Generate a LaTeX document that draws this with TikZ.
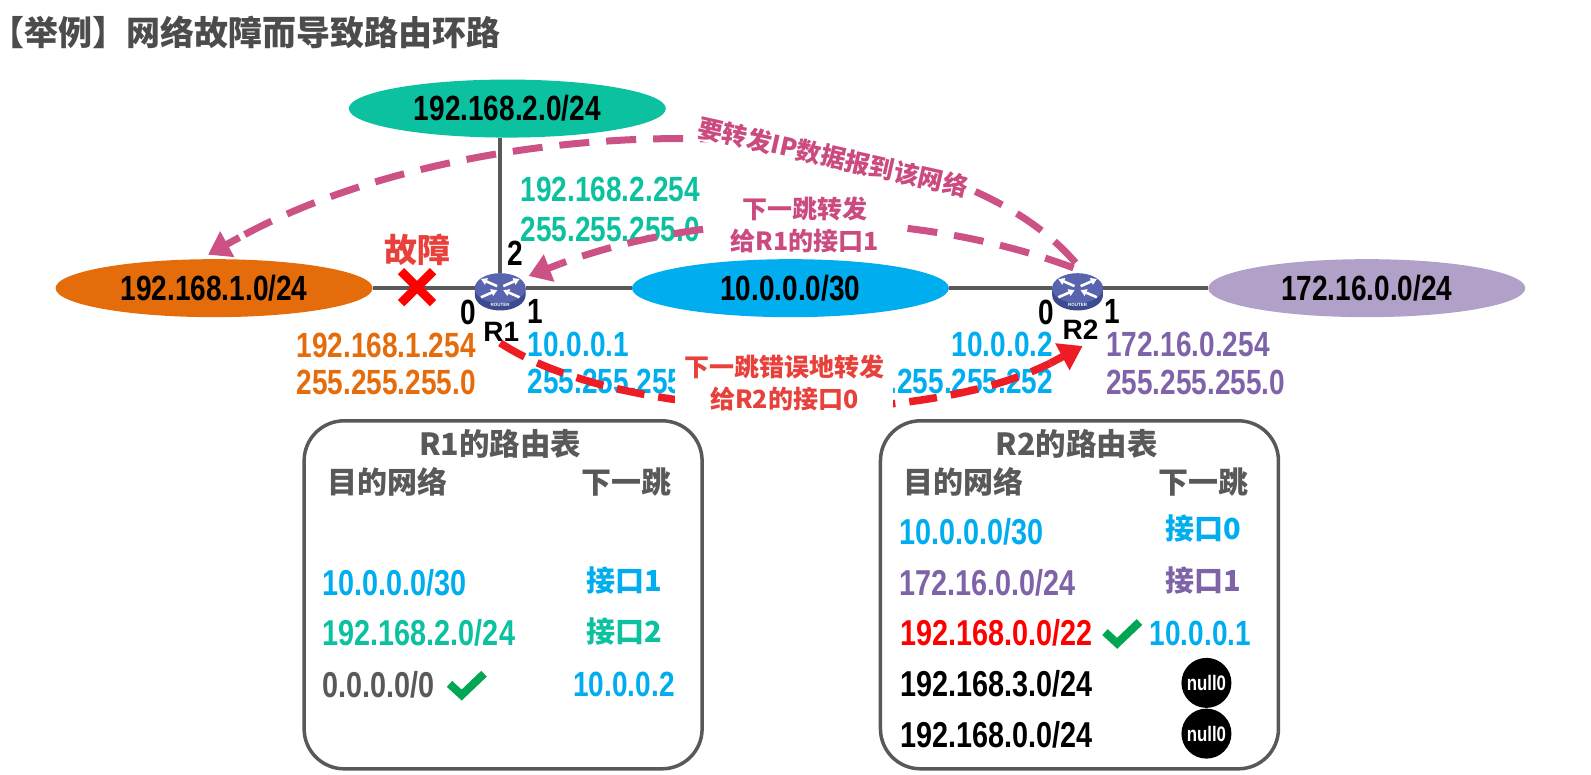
\documentclass[tikz,border=0pt]{standalone}
\usepackage{fontspec}
\usetikzlibrary{shapes.geometric,shapes.misc,arrows.meta,backgrounds}
\setmainfont{Liberation Sans}
\newfontfamily\numf{Liberation Sans}[FakeStretch=0.8]
\newfontfamily\cjkf{Noto Sans CJK SC}
\definecolor{cgreen}{HTML}{0BC19F}
\definecolor{corange}{HTML}{E46C0A}
\definecolor{cblue}{HTML}{00AEEF}
\definecolor{cpurple}{HTML}{B1A0C7}
\definecolor{tpurple}{HTML}{7F63A8}
\definecolor{cgray}{HTML}{595959}
\definecolor{cpink}{HTML}{CC5285}
\definecolor{cred}{HTML}{EE1C25}
\definecolor{tred}{HTML}{E8413C}
\definecolor{tpink}{HTML}{CB4B80}
\definecolor{ccheck}{HTML}{00A651}
\definecolor{rtop}{HTML}{5864AE}
\definecolor{rside}{HTML}{3C4A8E}
\tikzset{
  net/.style={ellipse,minimum width=317pt,minimum height=58pt,inner sep=0pt,text=black,font=\numf\bfseries\fontsize{35}{35}\selectfont},
  num/.style={inner sep=0pt,text=#1,font=\numf\bfseries\fontsize{35}{35}\selectfont},
  row/.style={anchor=west,inner sep=0pt,text=#1,font=\numf\bfseries\fontsize{36}{36}\selectfont},
  port/.style={inner sep=0pt,text=black,font=\numf\bfseries\fontsize{35}{35}\selectfont},
  rname/.style={inner sep=0pt,text=black,font=\bfseries\fontsize{28}{28}\selectfont},
  head/.style={inner sep=0pt,text=cgray,font=\cjkf\bfseries\fontsize{#1}{#1}\selectfont},
  hop/.style={inner sep=0pt,text=#1,font=\cjkf\bfseries\fontsize{29}{29}\selectfont},
  note/.style={fill=white,inner sep=1pt,text=#1,align=center,font=\cjkf\bfseries\fontsize{25}{32}\selectfont},
  tablebox/.style={draw=cgray,line width=3.5pt,rounded corners=40pt,fill=white,minimum width=398pt,minimum height=348pt,inner sep=0pt},
  wire/.style={draw=cgray,line width=4.5pt},
  pinkdash/.style={draw=cpink,line width=7pt,dash pattern=on 30pt off 17pt},
  pinktip/.style={draw=cpink,line width=7pt,-{Triangle[length=22pt,width=28pt]}},
  reddash/.style={draw=cred,line width=7.5pt,dash pattern=on 28pt off 14pt},
  redtip/.style={draw=cred,line width=7.5pt,-{Triangle[length=23pt,width=29pt]}},
  routertop/.style={ellipse,fill=rtop,minimum width=51pt,minimum height=30pt,inner sep=0pt},
  nullzero/.style={circle,fill=black,text=white,minimum size=50pt,inner sep=0pt,font=\numf\bfseries\fontsize{21}{21}\selectfont},
  checkmark/.style={draw=ccheck,line width=8pt,line join=miter},
  rarrow/.style={draw=white,line width=2.6pt,-{Triangle[length=6pt,width=7pt]}},
}
\newcommand{\routerat}[3]{%
  \fill[rside] (#2-25,#3) -- (#2-25,#3+7) arc[start angle=180,end angle=0,x radius=25,y radius=15] -- (#2+25,#3) -- cycle;
  \node[routertop] (#1) at (#2,#3) {};
  \node[inner sep=0pt,text=white,font=\bfseries\fontsize{4.5}{5}\selectfont] (#1lab) at (#2,#3+17) {ROUTER};
  \draw[rarrow] (#2-3,#3-2) -- (#2-19,#3-9);
  \draw[rarrow] (#2+3,#3-2) -- (#2+19,#3-9);
  \draw[rarrow] (#2-19,#3+9) -- (#2-3,#3+2);
  \draw[rarrow] (#2+19,#3+9) -- (#2+3,#3+2);
}
\begin{document}
\begin{tikzpicture}[x=1.0147pt,y=-1.0147pt]
\useasboundingbox (0,0) rectangle (1568,763);
% title
\node[anchor=west,inner sep=0pt,text=cgray!85!black,font=\cjkf\bfseries\fontsize{34}{34}\selectfont] (title) at (6,32) {\kern-16pt【举例】网络故障而导致路由环路};
% networks
\node[net,fill=cgreen] (ngreen) at (500,107) {192.168.2.0/24};
\node[net,fill=corange] (norange) at (211,284) {192.168.1.0/24};
\node[net,fill=cblue] (nblue) at (779,284) {10.0.0.0/30};
\node[net,fill=cpurple] (npurple) at (1347,284) {172.16.0.0/24};
% routers
\routerat{R1}{493}{284}
\routerat{R2}{1062}{284}
\begin{pgfonlayer}{background}
  \draw[wire] (norange) -- (R1);
  \draw[wire] (R1) -- (nblue);
  \draw[wire] (nblue) -- (R2);
  \draw[wire] (R2) -- (npurple);
  \draw[wire] (ngreen.south -| R1) -- (R1);
\end{pgfonlayer}
% ports
\node[port] (p10) at (462,308) {0};
\node[port] (p11) at (528,307) {1};
\node[port] (p12) at (508,250) {2};
\node[port] (p20) at (1031,308) {0};
\node[port] (p21) at (1096,307) {1};
\node[rname] (r1n) at (494,327) {R1};
\node[rname] (r2n) at (1065,325) {R2};
% fault
\node[inner sep=0pt,text=tred,font=\cjkf\bfseries\fontsize{33}{33}\selectfont] (fault) at (411,246) {故障};
\node[cross out,draw=red,line width=9pt,minimum size=23pt,inner sep=0pt] (xmark) at (411,283) {};
% addresses
\node[num=cgreen,anchor=west] (a1) at (513,187) {192.168.2.254};
\node[num=cgreen,anchor=west] (a2) at (513,226) {255.255.255.0};
\node[num=corange,anchor=east] (a3) at (469,340) {192.168.1.254};
\node[num=corange,anchor=east] (a4) at (469,377) {255.255.255.0};
\node[num=cblue,anchor=west] (a5) at (520,339) {10.0.0.1};
\node[num=cblue,anchor=west] (a6) at (520,376) {255.255.255.252};
\node[num=cblue,anchor=east] (a7) at (1038,339) {10.0.0.2};
\node[num=cblue,anchor=east] (a8) at (1038,376) {255.255.255.252};
\node[num=tpurple,anchor=west] (a9) at (1090,339) {172.16.0.254};
\node[num=tpurple,anchor=west] (a10) at (1090,377) {255.255.255.0};
% dashed connectors
\coordinate (s1) at (1060,259);
\coordinate (b1) at (236,234);
\coordinate (e1) at (205,251);
\coordinate (s2) at (1058,264);
\coordinate (b2) at (552,260);
\coordinate (e2) at (521,272);
\coordinate (s3) at (493,338);
\coordinate (b3) at (1035,358);
\coordinate (e3) at (1067,341);
\draw[pinkdash] (s1) .. controls (920,95) and (470,105) .. (b1);
\draw[pinktip] (b1) -- (e1);
\draw[pinkdash] (s2) .. controls (900,205) and (700,205) .. (b2);
\draw[pinktip] (b2) -- (e2);
\draw[reddash] (s3) .. controls (610,415) and (900,425) .. (b3);
\draw[redtip] (b3) -- (e3);
% notes
\node[note=tpink,rotate=-12.7,font=\cjkf\bfseries\fontsize{25}{25}\selectfont] (n1) at (821,155) {要转发IP数据报到该网络};
\node[note=tpink,minimum width=176pt,minimum height=66pt] (n2) at (793,222) {下一跳转发\\给R1的接口1};
\node[note=tred,minimum width=218pt,minimum height=66pt] (n3) at (773,377) {下一跳错误地转发\\给R2的接口0};
% R1 table
\node[tablebox,anchor=north west] (t1) at (298,413) {};
\node[head=30.5] (t1t) at (493,437) {R1的路由表};
\node[head=30] (t1a) at (382,475) {目的网络};
\node[head=30] (t1b) at (617,475) {下一跳};
\node[row=cblue] (t1r1) at (318,574) {10.0.0.0/30};
\node[hop=cblue] (t1h1) at (615,572) {接口1};
\node[row=cgreen] (t1r2) at (318,624) {192.168.2.0/24};
\node[hop=cgreen] (t1h2) at (615,622) {接口2};
\node[row=cgray] (t1r3) at (318,675) {0.0.0.0/0};
\draw[checkmark] (443,674) -- (455,685) -- (477,664);
\node[num=cblue] (t1h3) at (615,675) {10.0.0.2};
% R2 table
\node[tablebox,anchor=north west] (t2) at (866,413) {};
\node[head=30.5] (t2t) at (1061,437) {R2的路由表};
\node[head=30] (t2a) at (950,475) {目的网络};
\node[head=30] (t2b) at (1186,475) {下一跳};
\node[row=cblue] (t2r1) at (886,524) {10.0.0.0/30};
\node[hop=cblue] (t2h1) at (1186,521) {接口0};
\node[row=tpurple] (t2r2) at (886,574) {172.16.0.0/24};
\node[hop=tpurple] (t2h2) at (1186,572) {接口1};
\node[row=red] (t2r3) at (887,624) {192.168.0.0/22};
\draw[checkmark] (1089,623) -- (1101,634) -- (1123,613);
\node[num=cblue] (t2h3) at (1183,624) {10.0.0.1};
\node[row=black] (t2r4) at (887,674) {192.168.3.0/24};
\node[nullzero] (z1) at (1189,673) {null0};
\node[row=black] (t2r5) at (887,724) {192.168.0.0/24};
\node[nullzero] (z2) at (1189,723) {null0};
\end{tikzpicture}
\end{document}
